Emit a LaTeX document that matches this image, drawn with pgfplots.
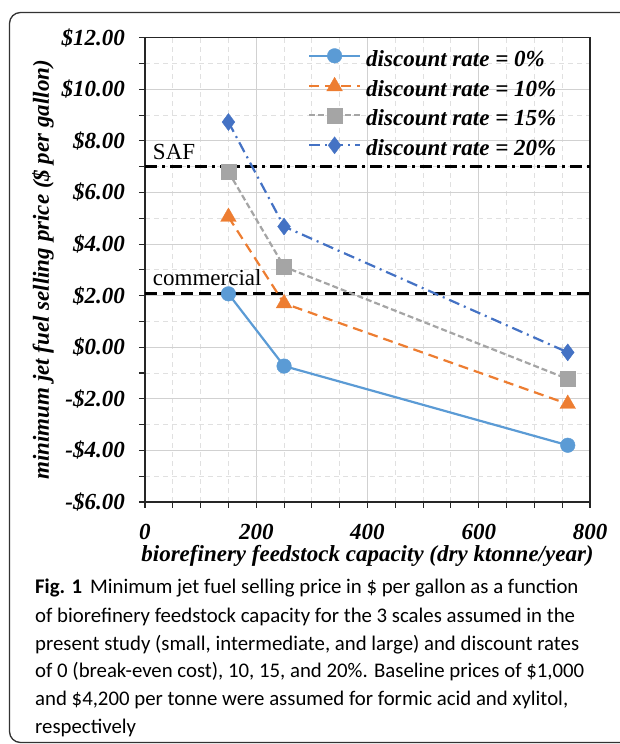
\documentclass[border=0pt]{standalone}
\usepackage{fontspec}
\setmainfont{Liberation Serif}
\newfontfamily\capfont{Carlito}
\usepackage{pgfplots}
\pgfplotsset{compat=1.18}
\definecolor{c0}{HTML}{5B9BD5}
\definecolor{c10}{HTML}{ED7D31}
\definecolor{c15}{HTML}{A5A5A5}
\definecolor{c20}{HTML}{4472C4}
\newcommand{\lab}{\fontsize{23}{27}\selectfont\bfseries\itshape}
\newcommand{\reg}{\fontsize{23}{27}\selectfont}
\newcommand{\capf}{\capfont\fontsize{20.8}{28}\selectfont}
\begin{document}
\begin{tikzpicture}[x=1pt,y=1pt]
\path[use as bounding box] (0,0) rectangle (619,744);
\draw[line width=1.3pt, black!80, rounded corners=11pt] (9.5,1.5) rectangle (650,731.5);
\begin{axis}[
 at={(145pt,242pt)}, anchor=south west, scale only axis, width=445pt, height=464.3pt,
 xmin=0, xmax=800, ymin=-6, ymax=12,
 xtick={0,200,400,600,800}, xticklabels={0,200,400,600,800},
 ytick={-6,-4,-2,0,2,4,6,8,10,12},
 yticklabels={-\$6.00,-\$4.00,-\$2.00,\$0.00,\$2.00,\$4.00,\$6.00,\$8.00,\$10.00,\$12.00},
 minor x tick num=3, minor y tick num=1,
 tick align=outside, major tick length=6pt, minor tick length=6pt,
 tick pos=left,
 grid=both,
 major grid style={black!18, line width=0.9pt},
 minor grid style={black!12, dash pattern=on 5pt off 4pt, line width=0.9pt},
 axis line style={black!85, line width=1.3pt},
 tick style={black!85, line width=1.1pt},
 yticklabel style={font=\lab, anchor=east, inner sep=0pt, xshift=-14pt},
 xticklabel style={font=\lab, anchor=north, inner sep=0pt, yshift=-16pt},
 xlabel={biorefinery feedstock capacity (dry ktonne/year)},
 ylabel={minimum jet fuel selling price (\$ per gallon)},
 xlabel style={at={(axis description cs:0.5,-0.1292)}, anchor=base, font=\lab, inner sep=0pt},
 ylabel style={at={(axis description cs:-0.2292,0.5)}, anchor=center, font=\lab, inner sep=0pt},
 legend style={at={(axis description cs:0.3663,0.9767)}, anchor=north west, draw=none, fill=none,
   inner sep=0pt, outer sep=0pt, row sep=6pt, font=\lab,
   nodes={inner sep=0pt, text height=16pt, text depth=5pt},
   /tikz/every odd column/.append style={column sep=5pt}},
 legend cell align=left,
 legend image code/.code={\draw[mark repeat=2,mark phase=2] plot coordinates {(0pt,5pt) (25.5pt,5pt) (51pt,5pt)};},
]
\addplot[black, line width=3pt, dash pattern=on 12pt off 6pt, forget plot] coordinates {(0,2.1) (800,2.1)};
\addplot[black, line width=3pt, dash pattern=on 12pt off 5pt on 3pt off 5pt, forget plot] coordinates {(0,7.0) (800,7.0)};
\addplot[c0, line width=2.2pt, mark=*, mark size=7.3pt, mark options={solid, line width=0.4pt}]
 coordinates {(150,2.07) (250,-0.73) (760,-3.8)};
\addlegendentry{discount rate = 0\%}
\addplot[c10, line width=2.2pt, dash pattern=on 10pt off 6pt, mark=triangle*, mark size=9pt, mark options={solid, line width=0.4pt}]
 coordinates {(150,5.05) (250,1.7) (760,-2.2)};
\addlegendentry{discount rate = 10\%}
\addplot[c15, line width=2.2pt, dash pattern=on 6pt off 3pt, mark=square*, mark size=7.5pt, mark options={solid, line width=0.4pt}]
 coordinates {(150,6.8) (250,3.12) (760,-1.23)};
\addlegendentry{discount rate = 15\%}
\addplot[c20, line width=2.2pt, dash pattern=on 11pt off 5pt on 2pt off 5pt, mark=diamond*, mark size=8.5pt, mark options={solid, line width=0.4pt}]
 coordinates {(150,8.73) (250,4.68) (760,-0.2)};
\addlegendentry{discount rate = 20\%}
\node[anchor=base west, inner sep=0pt, font=\reg] at (axis cs:14,7.26) {SAF};
\node[anchor=base west, inner sep=0pt, font=\reg] at (axis cs:14,2.39) {commercial};
\end{axis}
\node[anchor=base west, inner sep=0pt, font=\capf] at (35,150) {\textbf{Fig. 1}\hspace{8pt}Minimum jet fuel selling price in \$ per gallon as a function};
\node[anchor=base west, inner sep=0pt, font=\capf] at (35,121) {of biorefinery feedstock capacity for the 3 scales assumed in the};
\node[anchor=base west, inner sep=0pt, font=\capf] at (35,93) {present study (small, intermediate, and large) and discount rates};
\node[anchor=base west, inner sep=0pt, font=\capf] at (35,66) {of 0 (break-even cost), 10, 15, and 20\%. Baseline prices of \$1,000};
\node[anchor=base west, inner sep=0pt, font=\capf] at (35,38) {and \$4,200 per tonne were assumed for formic acid and xylitol,};
\node[anchor=base west, inner sep=0pt, font=\capf] at (35,10) {respectively};
\end{tikzpicture}
\end{document}
